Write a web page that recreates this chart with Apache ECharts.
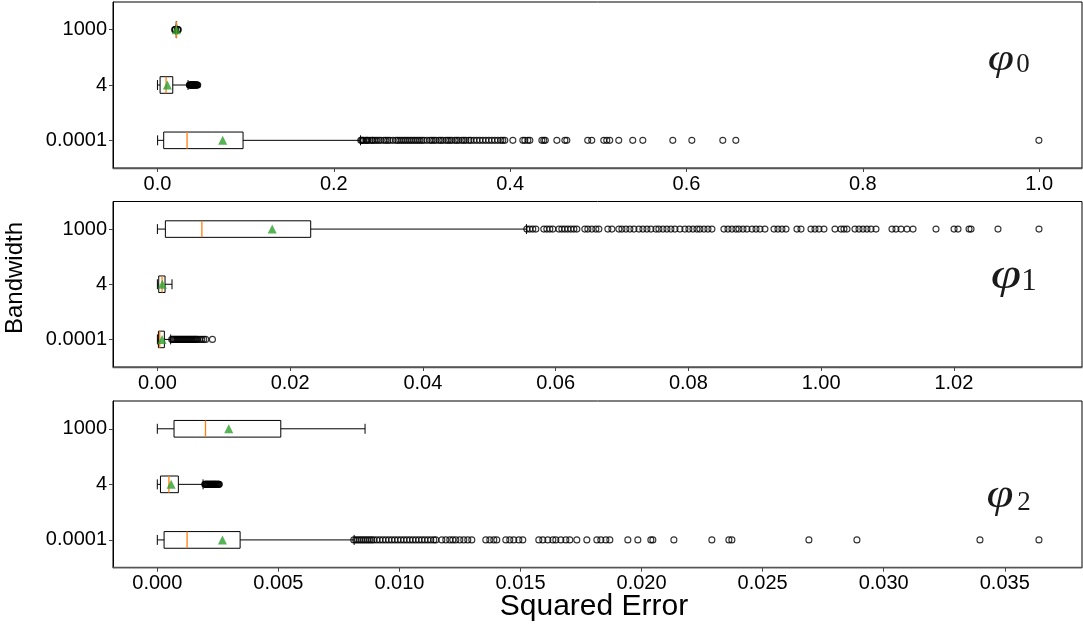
<!DOCTYPE html>
<html><head><meta charset="utf-8">
<script src="https://cdn.jsdelivr.net/npm/echarts@6/dist/echarts.min.js"></script>
<style>html,body{margin:0;padding:0;background:#fff}#c{width:1083px;height:630px}</style>
</head><body><div id="c"></div>
<script>
// Categories (bottom to top)
const bandwidths = ['0.0001', '4', '1000'];

// Box statistics: [min, q1, median, q3, max] for bandwidth 0.0001, 4, 1000
const phi0Boxes = [[0.0002, 0.0071, 0.0336, 0.0971, 0.2303], [0.0, 0.0030, 0.0098, 0.0174, 0.0347], [0.0210, 0.0213, 0.0215, 0.0217, 0.0220]];
const phi0Means = [0.074, 0.0113, 0.0215];
const phi0Fliers0001 = [0.2306,0.2318,0.2329,0.2340,0.2363,0.2375,0.2386,0.2409,0.2432,0.2443,0.2466,0.2488,0.2511,0.2534,0.2567,0.2590,0.2613,0.2636,0.2670,0.2704,0.2726,0.2749,0.2772,0.2795,0.2817,0.2840,0.2863,0.2885,0.2908,0.2931,0.2953,0.2976,0.2999,0.3022,0.3056,0.3090,0.3112,0.3135,0.3158,0.3192,0.3214,0.3237,0.3271,0.3294,0.3316,0.3339,0.3373,0.3395,0.3418,0.3452,0.3475,0.3498,0.3532,0.3554,0.3588,0.3622,0.3656,0.3690,0.3724,0.3758,0.3792,0.3826,0.3860,0.3894,0.3917,0.3940,0.4031,0.4144,0.4167,0.4201,0.4224,0.4360,0.4382,0.4399,0.4530,0.4621,0.4643,0.4880,0.4926,0.5062,0.5096,0.5130,0.5232,0.5391,0.5505,0.5845,0.6061,0.6412,0.6560,0.9997];
const phi0Fliers4 = [0.0362,0.0366,0.0370,0.0374,0.0378,0.0383,0.0386,0.0389,0.0392,0.0395,0.0400,0.0405,0.0409,0.0412,0.0418,0.0423,0.0428,0.0431,0.0434,0.0440,0.0446,0.0451,0.0457];
const phi0Fliers1000 = [0.0196,0.0200,0.0205,0.0226,0.0231,0.0236];

const phi1Boxes = [[0.0, 0.00015, 0.00035, 0.00105, 0.0020], [0.0, 0.0002, 0.0007, 0.00115, 0.0022], [0.0, 0.0012, 0.0067, 0.0231, 0.0556]];
const phi1Means = [0.0007, 0.00075, 0.0173];
const phi1Fliers0001 = [0.00216,0.00231,0.00246,0.00261,0.00276,0.00291,0.00306,0.00321,0.00336,0.00351,0.00366,0.00381,0.00396,0.00411,0.00427,0.00442,0.00457,0.00472,0.00487,0.00502,0.00517,0.00532,0.00547,0.00562,0.00577,0.00592,0.00607,0.00638,0.00668,0.00698,0.00728,0.00829];
const phi1Fliers4 = [];
const phi1Fliers1000 = [0.05566,0.05611,0.05656,0.05702,0.05822,0.05868,0.05913,0.05958,0.06049,0.06094,0.06139,0.06184,0.06230,0.06275,0.06320,0.06440,0.06486,0.06546,0.06606,0.06652,0.06787,0.06848,0.06953,0.06999,0.07059,0.07119,0.07180,0.07255,0.07315,0.07376,0.07436,0.07511,0.07556,0.07617,0.07677,0.07737,0.07798,0.07873,0.07948,0.08008,0.08069,0.08129,0.08174,0.08235,0.08295,0.08355,0.08536,0.08597,0.08657,0.08717,0.08762,0.08823,0.08883,0.08959,0.09019,0.09079,0.09154,0.09290,0.09350,0.09410,0.09471,0.09636,0.09697,0.09847,0.09908,0.09968,0.10043,0.10209,0.10299,0.10344,0.10390,0.10510,0.10571,0.10631,0.10691,0.10752,0.10827,0.11068,0.11128,0.11204,0.11294,0.11385,0.11731,0.12003,0.12063,0.12229,0.12259,0.12665,0.13283];

const phi2Boxes = [[0.0, 0.00028, 0.00123, 0.00342, 0.00813], [0.0, 0.00013, 0.00048, 0.00087, 0.00189], [0.0, 0.00069, 0.00199, 0.0051, 0.00858]];
const phi2Means = [0.00269, 0.00057, 0.00295];
const phi2Fliers0001 = [0.008114,0.008196,0.008279,0.008362,0.008444,0.008527,0.008609,0.008692,0.008775,0.008857,0.008940,0.009064,0.009188,0.009312,0.009436,0.009560,0.009684,0.009808,0.009932,0.010056,0.010180,0.010304,0.010428,0.010552,0.010676,0.010800,0.010924,0.011047,0.011171,0.011295,0.011419,0.011502,0.011749,0.011915,0.012080,0.012204,0.012328,0.012493,0.012658,0.012823,0.012989,0.013567,0.013732,0.013897,0.014021,0.014393,0.014558,0.014723,0.014930,0.015095,0.015756,0.015922,0.016128,0.016335,0.016459,0.016665,0.016872,0.017037,0.017326,0.017740,0.018153,0.018318,0.018524,0.018690,0.019433,0.019846,0.020383,0.020466,0.021334,0.022903,0.023606,0.023730,0.026911,0.028894,0.033975,0.036412];
const phi2Fliers4 = [0.00196,0.00198,0.00200,0.00202,0.00204,0.00206,0.00208,0.00210,0.00212,0.00214,0.00216,0.00219,0.00221,0.00223,0.00225,0.00227,0.00229,0.00231,0.00233,0.00235,0.00237,0.00239,0.00241,0.00243,0.00245,0.00248,0.00250,0.00252,0.00254,0.00256];
const phi2Fliers1000 = [];

// Tick values and labels
const phi0Ticks = [0, 0.2, 0.4, 0.6, 0.8, 1.0];
const phi0TickLabels = ['0.0', '0.2', '0.4', '0.6', '0.8', '1.0'];
const phi1Ticks = [0, 0.02, 0.04, 0.06, 0.08, 0.10, 0.12];
const phi1TickLabels = ['0.00', '0.02', '0.04', '0.06', '0.08', '1.00', '1.02'];
const phi2Ticks = [0, 0.005, 0.010, 0.015, 0.020, 0.025, 0.030, 0.035];
const phi2TickLabels = ['0.000', '0.005', '0.010', '0.015', '0.020', '0.025', '0.030', '0.035'];

const panels = [
  {boxes: phi0Boxes, means: phi0Means, fliers: [phi0Fliers0001, phi0Fliers4, phi0Fliers1000], ticks: phi0Ticks, labels: phi0TickLabels, min: -0.0504, max: 1.0486, top: 2, height: 166},
  {boxes: phi1Boxes, means: phi1Means, fliers: [phi1Fliers0001, phi1Fliers4, phi1Fliers1000], ticks: phi1Ticks, labels: phi1TickLabels, min: -0.00669, max: 0.13931, top: 201.5, height: 165.5},
  {boxes: phi2Boxes, means: phi2Means, fliers: [phi2Fliers0001, phi2Fliers4, phi2Fliers1000], ticks: phi2Ticks, labels: phi2TickLabels, min: -0.00183, max: 0.03819, top: 401, height: 166.7}
];

const FONT = 'Liberation Sans, Arial, sans-serif';

function makeRenderBox(boxes) {
  return function (params, api) {
    const cat = params.dataIndex;
    const b = boxes[cat];
    const p = b.map(v => api.coord([v, cat]));
    const y = p[0][1];
    const band = api.size([0, 1])[1];
    const hb = band * 0.15, hc = band * 0.09;
    const s = {stroke: '#000', lineWidth: 1, fill: null};
    return {type: 'group', children: [
      {type: 'line', shape: {x1: p[0][0], y1: y, x2: p[1][0], y2: y}, style: s},
      {type: 'line', shape: {x1: p[3][0], y1: y, x2: p[4][0], y2: y}, style: s},
      {type: 'line', shape: {x1: p[0][0], y1: y - hc, x2: p[0][0], y2: y + hc}, style: s},
      {type: 'line', shape: {x1: p[4][0], y1: y - hc, x2: p[4][0], y2: y + hc}, style: s},
      {type: 'rect', shape: {x: p[1][0], y: y - hb, width: p[3][0] - p[1][0], height: 2 * hb}, style: {stroke: '#000', lineWidth: 1, fill: 'none'}},
      {type: 'line', shape: {x1: p[2][0], y1: y - hb, x2: p[2][0], y2: y + hb}, style: {stroke: '#ff7f0e', lineWidth: 1.3}}
    ]};
  };
}

const grid = [], xAxis = [], yAxis = [], series = [];
panels.forEach((pn, i) => {
  grid.push({left: 113, width: 969, top: pn.top, height: pn.height, show: true, borderColor: '#000', borderWidth: 1, backgroundColor: '#fff'});
  xAxis.push({
    type: 'value', gridIndex: i, min: pn.min, max: pn.max, position: 'bottom',
    splitLine: {show: false},
    axisLine: {show: true, onZero: false, lineStyle: {color: '#555', width: 1.3}},
    axisTick: {show: true, length: 4, lineStyle: {color: '#444'}, customValues: pn.ticks},
    axisLabel: {show: true, customValues: pn.ticks, color: '#000', fontSize: 20, fontFamily: FONT, margin: 6,
      formatter: (v) => { const k = pn.ticks.findIndex(t => Math.abs(t - v) < 1e-9); return k >= 0 ? pn.labels[k] : ''; }}
  });
  yAxis.push({
    type: 'category', gridIndex: i, data: bandwidths, boundaryGap: true, position: 'left',
    axisLine: {show: true, onZero: false, lineStyle: {color: '#000'}},
    axisTick: {show: true, alignWithLabel: true, length: 4, lineStyle: {color: '#444'}},
    axisLabel: {color: '#000', fontSize: 20, fontFamily: FONT, margin: 6},
    splitLine: {show: false}
  });
  const flierData = [];
  pn.fliers.forEach((arr, c) => arr.forEach(v => flierData.push([v, c])));
  series.push({
    type: 'scatter', xAxisIndex: i, yAxisIndex: i, data: flierData, symbol: 'circle', symbolSize: 6,
    itemStyle: {color: 'rgba(0,0,0,0)', borderColor: '#000', borderWidth: 1.1}, z: 2, silent: true
  });
  series.push({
    type: 'custom', xAxisIndex: i, yAxisIndex: i, renderItem: makeRenderBox(pn.boxes),
    data: pn.boxes.map((b, c) => [b[0], c, b[4]]), encode: {x: [0, 2], y: 1}, z: 3, silent: true
  });
  series.push({
    type: 'scatter', xAxisIndex: i, yAxisIndex: i, data: pn.means.map((m, c) => [m, c]), symbol: 'triangle', symbolSize: 9,
    itemStyle: {color: '#2ca02c'}, z: 4, silent: true
  });
});

const phiTexts = [
  {p: [1001, 60], d: [1023, 65], ps: 38, ds: 27, sub: '0'},
  {p: [1006, 276], d: [1029, 282], ps: 44, ds: 31, sub: '1'},
  {p: [1000, 497], d: [1024, 503], ps: 39, ds: 27, sub: '2'}
];
const graphic = [];
phiTexts.forEach(t => {
  graphic.push({type: 'text', x: t.p[0], y: t.p[1], scaleX: 1.25, z: 10, style: {text: 'φ', fontSize: t.ps, fontFamily: 'Liberation Serif', fontStyle: 'italic', fill: '#1a1a1a', textAlign: 'center', textVerticalAlign: 'middle'}});
  graphic.push({type: 'text', x: t.d[0], y: t.d[1], z: 10, style: {text: t.sub, fontSize: t.ds, fontFamily: 'Liberation Serif', fill: '#1a1a1a', textAlign: 'center', textVerticalAlign: 'middle'}});
});
graphic.push({type: 'text', x: 594, y: 607, style: {text: 'Squared Error', fontSize: 30, fontFamily: FONT, fill: '#000', textAlign: 'center', textVerticalAlign: 'middle'}});
graphic.push({type: 'text', x: 15, y: 278, rotation: Math.PI / 2, style: {text: 'Bandwidth', fontSize: 24, fontFamily: FONT, fill: '#000', textAlign: 'center', textVerticalAlign: 'middle'}});

const chart = echarts.init(document.getElementById('c'), null, {renderer: 'canvas'});
chart.setOption({animation: false, backgroundColor: '#fff', grid, xAxis, yAxis, series, graphic});
</script>
</body></html>
